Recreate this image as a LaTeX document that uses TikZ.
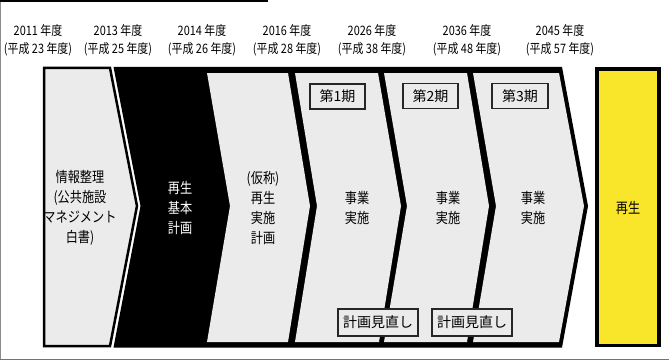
\documentclass[tikz,border=0pt]{standalone}
\usepackage{fontspec}
\setmainfont{Noto Sans CJK JP}[FakeStretch=0.84]
\newfontfamily\lblfont{Noto Sans CJK JP}
\definecolor{chev}{HTML}{EBEBEB}
\definecolor{yel}{HTML}{F9E52A}
\begin{document}
\begin{tikzpicture}[x=1pt,y=-1pt,
  year/.style={align=center,font=\fontsize{13}{18}\selectfont,inner sep=0pt},
  body/.style={align=center,font=\fontsize{14.5}{20}\selectfont,inner sep=0pt},
  tag/.style={draw=black!85,line width=1.3pt,fill=chev,inner sep=0pt,font=\lblfont\fontsize{14}{14}\selectfont},
  chevfill/.style={fill=chev}]
\useasboundingbox (0,0) rectangle (669,361);
% frame
\draw[line width=2pt] (0,1.5) -- (267,1.5) -- (267,0);
\draw[black!45,line width=0.8pt] (0.8,2.5) -- (0.8,359.8);
\draw[black!55,line width=1pt] (0,359.7) -- (669,359.7);
% years
\node[year] (y1) at (38,40) {2011 年度\\(平成 23 年度)};
\node[year] (y2) at (118,40) {2013 年度\\(平成 25 年度)};
\node[year] (y3) at (202,40) {2014 年度\\(平成 26 年度)};
\node[year] (y4) at (287,40) {2016 年度\\(平成 28 年度)};
\node[year] (y5) at (372,40) {2026 年度\\(平成 38 年度)};
\node[year] (y6) at (467,40) {2036 年度\\(平成 48 年度)};
\node[year] (y7) at (560,40) {2045 年度\\(平成 57 年度)};
% left box
\draw[chevfill,draw=black,line width=2.5pt,line join=miter]
  (44,68) -- (110,68) -- (137,206) -- (110,346) -- (44,346) -- cycle;
% black region
\fill[black] (113.5,67) -- (562,67) -- (588,206) -- (562,347.5) -- (113.5,347.5) -- (140.5,206) -- cycle;
% chevrons
\fill[chev] (207,73) -- (288,73) -- (310,206) -- (288,342) -- (207,342) -- (230,206) -- cycle;
\fill[chev] (295,73) -- (378,73) -- (401,206) -- (379,342) -- (295,342) -- (317,206) -- cycle;
\fill[chev] (384,73) -- (467,73) -- (489,206) -- (467,342) -- (384,342) -- (407,206) -- cycle;
\fill[chev] (473,73) -- (559,73) -- (584,206) -- (559,342) -- (473,342) -- (496,206) -- cycle;
% yellow
\draw[fill=yel,draw=black,line width=3.5pt] (597,69) rectangle (659,345.5);
% body texts
\node[body] (t0) at (80,207.5) {情報整理\\(公共施設\\マネジメント\\白書)};
\node[body,text=white] (t1) at (180,208) {再生\\基本\\計画};
\node[body] (t2) at (263,208) {(仮称)\\再生\\実施\\計画};
\node[body] (t3) at (357,207.5) {事業\\実施};
\node[body] (t4) at (448,207.5) {事業\\実施};
\node[body] (t5) at (533,207.5) {事業\\実施};
\node[body] (t6) at (628,208) {再生};
% tags
\node[tag,minimum width=55pt,minimum height=25pt] (p1) at (337.5,96.5) {第1期};
\node[tag,minimum width=55pt,minimum height=25pt] (p2) at (430.5,96) {第2期};
\node[tag,minimum width=56pt,minimum height=25pt] (p3) at (520,96) {第3期};
\node[tag,minimum width=80pt,minimum height=27pt] (r1) at (378,322.5) {計画見直し};
\node[tag,minimum width=80pt,minimum height=27pt] (r2) at (472,322.5) {計画見直し};
\end{tikzpicture}
\end{document}
